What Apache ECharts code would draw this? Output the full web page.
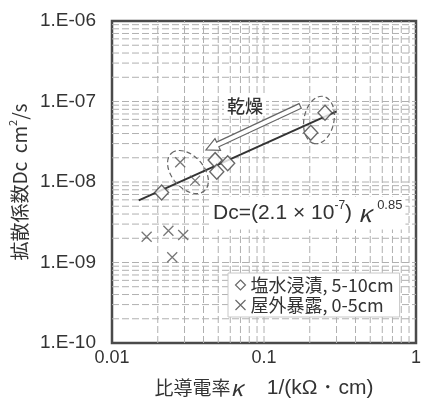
<!DOCTYPE html>
<html>
<head>
<meta charset="utf-8">
<script src="https://cdn.jsdelivr.net/npm/echarts@6/dist/echarts.min.js"></script>
<style>
  html, body { margin: 0; padding: 0; background: #fff; }
  #chart { width: 428px; height: 403px; }
</style>
</head>
<body>
<div id="chart"></div>
<script>
// Brine-immersed specimens, 5-10 cm depth: conductivity κ and diffusion coefficient Dc
const brineKappa = [0.0212, 0.0477, 0.0489, 0.0577, 0.203, 0.252];
const brineDc    = [7.4e-9, 1.87e-8, 1.34e-8, 1.71e-8, 4.1e-8, 7.26e-8];

// Outdoor-exposed specimens, 0-5 cm depth
const outdoorKappa = [0.0281, 0.0352, 0.0169, 0.0235, 0.0294, 0.0249];
const outdoorDc    = [1.76e-8, 1.04e-8, 2.09e-9, 2.48e-9, 2.2e-9, 1.16e-9];

// Regression Dc = (2.1e-7) κ^0.85, drawn over this κ range
const fitCoef = 2.1e-7;
const fitExp = 0.85;
const fitRange = [0.015, 0.3];

const seriesNames = ['塩水浸漬, 5-10cm', '屋外暴露, 0-5cm'];
const xTickLabels = ['0.01', '0.1', '1'];
const yTickLabels = ['1.E-10', '1.E-09', '1.E-08', '1.E-07', '1.E-06'];

// Annotation anchors in data space (κ, Dc)
const dryGroupCenter = [0.0316, 1.33e-8];
const wetGroupCenter = [0.230, 5.89e-8];
const dryArrowFrom = [0.173, 8.8e-8];
const dryArrowTo = [0.0415, 2.5e-8];

const CJK = "'Noto Sans CJK JP', sans-serif";
const LATIN = "'Liberation Sans', Arial, sans-serif";
const INK = '#333';
const CROSS = 'path://M0,0L10,10M10,0L0,10';

const X_MIN = 0.01, X_MAX = 1, Y_MIN = 1e-10, Y_MAX = 1e-6;

// 1-2-...-9 log grid positions inside each decade
function logGrid(fromExp, toExp) {
  const out = [];
  for (let e = fromExp; e < toExp; e++) {
    for (let m = 1; m <= 9; m++) {
      if (e === fromExp && m === 1) continue;
      out.push(m * Math.pow(10, e));
    }
  }
  return out;
}
const xGrid = logGrid(-2, 0);
const yGrid = logGrid(-10, -6);

// Grid lines as broken polylines ('-' breaks the line between segments)
const vGridData = [];
xGrid.forEach(v => { vGridData.push([v, Y_MIN], [v, Y_MAX], ['-', '-']); });
const hGridData = [];
yGrid.forEach(v => { hGridData.push([X_MIN, v], [X_MAX, v], ['-', '-']); });

const gridLineStyle = { color: '#b0b0b0', width: 1, type: [7, 3] };

const chart = echarts.init(document.getElementById('chart'), null, { renderer: 'canvas' });

const fitLine = fitRange.map(k => [k, fitCoef * Math.pow(k, fitExp)]);

chart.setOption({
  animation: false,
  backgroundColor: '#fff',
  grid: {
    left: 112, top: 21, right: 12, bottom: 60,
    containLabel: false, outerBoundsMode: 'none',
    show: true, borderColor: '#4a4a4a', borderWidth: 2.5, backgroundColor: 'transparent'
  },
  xAxis: {
    type: 'log', logBase: 10, min: X_MIN, max: X_MAX,
    axisLine: { show: false }, axisTick: { show: false }, splitLine: { show: false },
    axisLabel: {
      margin: 6, fontSize: 18, fontFamily: LATIN, color: INK,
      formatter: v => xTickLabels[Math.round(Math.log10(v)) + 2]
    },
    name: '比導電率{k|κ}{g| }{l|1/(kΩ・cm)}',
    nameLocation: 'middle', nameGap: 34,
    nameTextStyle: {
      fontSize: 19, fontFamily: CJK, color: INK,
      rich: {
        k: { fontSize: 22, fontFamily: CJK, fontStyle: 'italic', color: INK },
        g: { width: 24 },
        l: { fontSize: 21, fontFamily: LATIN, color: INK }
      }
    }
  },
  yAxis: {
    type: 'log', logBase: 10, min: Y_MIN, max: Y_MAX,
    axisLine: { show: false }, axisTick: { show: false }, splitLine: { show: false },
    axisLabel: {
      margin: 16, fontSize: 19, fontFamily: LATIN, color: INK,
      formatter: v => yTickLabels[Math.round(Math.log10(v)) + 10]
    },
    name: '拡散係数Dc  cm{s|2}/s',
    nameLocation: 'middle', nameRotate: 90, nameGap: 79,
    nameTextStyle: {
      fontSize: 19, fontFamily: CJK, color: INK,
      rich: { s: { fontSize: 11, fontFamily: CJK, color: INK, padding: [0, 0, 14, 0] } }
    }
  },
  legend: {
    orient: 'vertical', left: 228, top: 273,
    padding: [3, 6, 3, 5], itemGap: 2, itemWidth: 10, itemHeight: 10,
    backgroundColor: '#fff', borderColor: '#c8c8c8', borderWidth: 1,
    textStyle: { fontSize: 18, fontFamily: CJK, color: INK },
    data: [
      { name: seriesNames[0], icon: 'diamond',
        itemStyle: { color: '#fff', borderColor: '#444', borderWidth: 1.2 } },
      { name: seriesNames[1], icon: CROSS,
        itemStyle: { color: 'none', borderColor: '#444', borderWidth: 1.2 } }
    ]
  },
  series: [
    {
      name: 'vgrid', type: 'line', data: vGridData, silent: true, z: 1,
      showSymbol: false, connectNulls: false, lineStyle: gridLineStyle
    },
    {
      name: 'hgrid', type: 'line', data: hGridData, silent: true, z: 1,
      showSymbol: false, connectNulls: false, lineStyle: gridLineStyle
    },
    {
      name: 'fit', type: 'line', data: fitLine, showSymbol: false, silent: true, z: 3,
      lineStyle: { color: '#333', width: 2 }
    },
    {
      name: seriesNames[0], type: 'scatter', z: 4,
      data: brineKappa.map((k, i) => [k, brineDc[i]]),
      symbol: 'diamond', symbolSize: [14, 15],
      itemStyle: { color: '#fff', borderColor: '#444', borderWidth: 1.4 }
    },
    {
      name: seriesNames[1], type: 'scatter', z: 4,
      data: outdoorKappa.map((k, i) => [k, outdoorDc[i]]),
      symbol: CROSS, symbolSize: 10,
      itemStyle: { color: 'none', borderColor: '#555', borderWidth: 1.3 }
    }
  ]
});

// Annotations positioned from data-space anchors
const px = p => chart.convertToPixel({ gridIndex: 0 }, p);
const c1 = px(dryGroupCenter);
const c2 = px(wetGroupCenter);
const a0 = px(dryArrowFrom);
const a1 = px(dryArrowTo);

function arrowPoints(t, p, headLen, headHalf, shaftHalf) {
  const dx = p[0] - t[0], dy = p[1] - t[1];
  const len = Math.hypot(dx, dy);
  const ux = dx / len, uy = dy / len;
  const nx = -uy, ny = ux;
  const bx = p[0] - ux * headLen, by = p[1] - uy * headLen;
  return [
    [t[0] + nx * shaftHalf, t[1] + ny * shaftHalf],
    [bx + nx * shaftHalf, by + ny * shaftHalf],
    [bx + nx * headHalf, by + ny * headHalf],
    [p[0], p[1]],
    [bx - nx * headHalf, by - ny * headHalf],
    [bx - nx * shaftHalf, by - ny * shaftHalf],
    [t[0] - nx * shaftHalf, t[1] - ny * shaftHalf]
  ];
}

const dashed = { fill: 'none', stroke: '#666', lineWidth: 1.2, lineDash: [5, 3] };

chart.setOption({
  graphic: [
    { type: 'ellipse', x: c1[0], y: c1[1], rotation: -0.85, z: 10,
      shape: { cx: 0, cy: 0, rx: 25, ry: 16 }, style: dashed, silent: true },
    { type: 'ellipse', x: c2[0], y: c2[1], rotation: 1.38, z: 10,
      shape: { cx: 0, cy: 0, rx: 24, ry: 15 }, style: dashed, silent: true },
    { type: 'polygon', z: 10, silent: true,
      shape: { points: arrowPoints(a0, a1, 13, 6.5, 2.6) },
      style: { fill: '#fff', stroke: '#666', lineWidth: 1.2 } },
    { type: 'text', z: 10, silent: true, x: 245, y: 106,
      style: {
        text: '乾燥', fontSize: 18, fontFamily: CJK, fontWeight: 500, fill: '#333',
        align: 'center', verticalAlign: 'middle',
        backgroundColor: '#fff', padding: [1, 3]
      } },
    { type: 'text', z: 10, silent: true, x: 210, y: 213,
      style: {
        text: '{m|Dc=(2.1 × 10}{s|-7}{m|) }{k|κ}{t|0.85}',
        verticalAlign: 'middle', backgroundColor: '#fff', padding: [2, 3],
        rich: {
          m: { fontSize: 21, fontFamily: LATIN, fill: INK },
          k: { fontSize: 24, fontFamily: CJK, fontStyle: 'italic', fill: INK },
          s: { fontSize: 12, fontFamily: LATIN, fill: INK, padding: [0, 0, 15, 0] },
          t: { fontSize: 13, fontFamily: LATIN, fill: INK, padding: [0, 0, 16, 6] }
        }
      } }
  ]
});
</script>
</body>
</html>
